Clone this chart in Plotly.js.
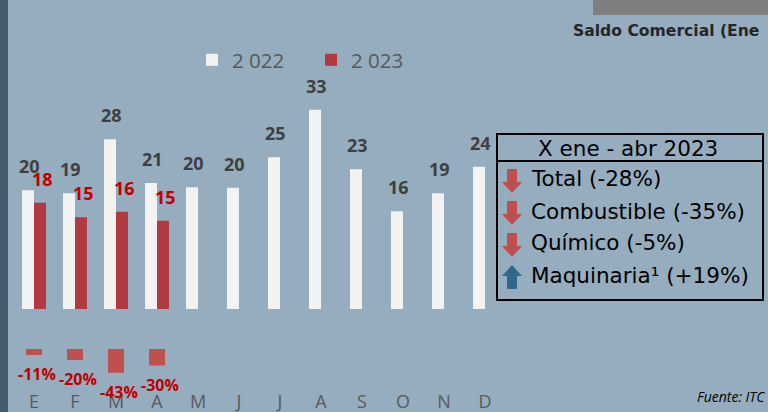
<!DOCTYPE html>
<html><head><meta charset="utf-8">
<script src="https://cdn.plot.ly/plotly-3.0.1.min.js"></script>
<style>html,body{margin:0;padding:0;background:#95adbf;overflow:hidden}#chart{width:768px;height:412px}</style>
</head><body><div id="chart"></div>
<script>
// ---- data ----
const monthKeys = ['Ene','Feb','Mar','Abr','May','Jun','Jul','Ago','Sep','Oct','Nov','Dic'];
const monthLetters = ['E','F','M','A','M','J','J','A','S','O','N','D'];
const values2022 = [19.8,19.3,28.3,21.0,20.3,20.2,25.3,33.2,23.3,16.3,19.3,23.7];
const values2023 = [17.7,15.3,16.2,14.7];
const pctChange = [-11,-20,-43,-30];
const seriesNames = ['2 022','2 023'];
const titleText = 'Saldo Comercial (Ene';
const sourceText = 'Fuente: ITC';
const boxTitle = 'X ene - abr 2023';
const boxItems = ['Total (-28%)','Combustible (-35%)','Químico (-5%)','Maquinaria¹ (+19%)'];
const boxTrend = ['down','down','down','up'];

// ---- helpers ----
const W = 768, H = 412;
const px = x => x / W;
const py = y => 1 - y / H;
const months2023 = monthKeys.slice(0, values2023.length);

const traces = [
  {type:'bar', name:seriesNames[0], x:monthKeys, y:values2022, xaxis:'x', yaxis:'y',
   marker:{color:'#f2f2f2', line:{width:0}}, hoverinfo:'none'},
  {type:'bar', name:seriesNames[1], x:months2023, y:values2023, xaxis:'x', yaxis:'y',
   marker:{color:'#b03a40', line:{width:0}}, hoverinfo:'none'},
  {type:'bar', name:'var', x:months2023, y:pctChange, xaxis:'x', yaxis:'y2', width:0.39,
   marker:{color:'#c0504d', line:{width:0}}, showlegend:false, hoverinfo:'none'}
];

const annotations = [];
values2022.forEach((v,i) => annotations.push({
  x: monthKeys[i], y: v, xref:'x', yref:'y', text: String(Math.round(v)),
  showarrow:false, yanchor:'middle', xanchor:'center', yshift:24, xshift:-5,
  font: {family:'Open Sans, sans-serif', size:18, color:'#404040', weight:700}
}));
values2023.forEach((v,i) => annotations.push({
  x: months2023[i], y: v, xref:'x', yref:'y', text: String(Math.round(v)),
  showarrow:false, yanchor:'middle', xanchor:'center', yshift:24, xshift:8,
  font: {family:'Open Sans, sans-serif', size:18, color:'#c00000', weight:700}
}));
pctChange.forEach((v,i) => annotations.push({
  x: months2023[i], y: v, xref:'x', yref:'y2', text: v + '%',
  showarrow:false, yanchor:'middle', xanchor:'center', yshift:-19, xshift:3,
  font: {family:'Open Sans, sans-serif', size:16, color:'#c00000', weight:700}
}));
annotations.push({x:px(571), y:py(31), xref:'paper', yref:'paper', text:titleText,
  showarrow:false, xanchor:'left', yanchor:'middle',
  font:{family:'DejaVu Sans, Verdana, sans-serif', size:15.6, color:'#262626', weight:700}});
annotations.push({x:px(767), y:py(396), xref:'paper', yref:'paper', text:sourceText,
  showarrow:false, xanchor:'right', yanchor:'middle',
  font:{family:'Open Sans, sans-serif', size:14, color:'#000000', style:'italic'}});
annotations.push({x:px(628), y:py(148), xref:'paper', yref:'paper', text:boxTitle,
  showarrow:false, xanchor:'center', yanchor:'middle',
  font:{family:'DejaVu Sans, Verdana, sans-serif', size:21.5, color:'#000000'}});
boxItems.forEach((t,i) => annotations.push({x:px(529), y:py(179 + 32*i), xref:'paper', yref:'paper', text:t,
  showarrow:false, xanchor:'left', yanchor:'middle',
  font:{family:'DejaVu Sans, Verdana, sans-serif', size:21.5, color:'#000000'}}));

const shapes = [
  {type:'rect', xref:'paper', yref:'paper', x0:0, x1:px(8), y0:0, y1:1, fillcolor:'#465c6e', line:{width:0}, layer:'below'},
  {type:'rect', xref:'paper', yref:'paper', x0:px(593), x1:1, y0:py(15), y1:1, fillcolor:'#7f7f7f', line:{width:0}, layer:'below'},
  {type:'rect', xref:'paper', yref:'paper', x0:px(497), x1:px(763), y0:py(300), y1:py(134), line:{color:'#000000', width:2}},
  {type:'line', xref:'paper', yref:'paper', x0:px(497), x1:px(763), y0:py(161), y1:py(161), line:{color:'#000000', width:2}}
];
function arrowPath(cx, cy, dir){
  const hw=10, sw=5, h=12, s = dir==='down' ? 1 : -1;
  const pts = [[cx-sw,cy-s*h],[cx+sw,cy-s*h],[cx+sw,cy+s*1],[cx+hw,cy+s*1],[cx,cy+s*h],[cx-hw,cy+s*1],[cx-sw,cy+s*1]];
  return 'M' + pts.map(p => px(p[0]) + ',' + py(p[1])).join('L') + 'Z';
}
boxTrend.forEach((d,i) => shapes.push({type:'path', xref:'paper', yref:'paper',
  path: arrowPath(512, 181 + 32*i, d), fillcolor: d==='down' ? '#c0504d' : '#31678a', line:{width:0}}));

const layout = {
  width:W, height:H, margin:{l:0,r:0,t:0,b:0},
  paper_bgcolor:'#95adbf', plot_bgcolor:'rgba(0,0,0,0)',
  barmode:'group', bargap:0.415, bargroupgap:0,
  showlegend:true,
  legend:{orientation:'h', x:px(192), y:py(60), xanchor:'left', yanchor:'middle',
    entrywidth:74, entrywidthmode:'pixels',
    bgcolor:'rgba(0,0,0,0)', font:{family:'Open Sans, sans-serif', size:20.5, color:'#595959'}},
  xaxis:{type:'category', categoryorder:'array', categoryarray:monthKeys, range:[-0.5,11.5],
    domain:[px(13.5), px(505.5)], anchor:'free', position:py(389),
    tickmode:'array', tickvals:monthKeys, ticktext:monthLetters,
    tickfont:{family:'Open Sans, sans-serif', size:18, color:'#595959'},
    showgrid:false, zeroline:false, showline:false, ticks:'', fixedrange:true},
  yaxis:{domain:[py(309), py(69)], range:[0,40], visible:false, showgrid:false, zeroline:false},
  yaxis2:{domain:[py(382), py(349)], range:[-60,0], visible:false, showgrid:false, zeroline:false, anchor:'x'},
  annotations: annotations,
  shapes: shapes,
  font:{family:'Open Sans, sans-serif'}
};
Plotly.newPlot('chart', traces, layout, {staticPlot:true, displayModeBar:false});
</script></body></html>
